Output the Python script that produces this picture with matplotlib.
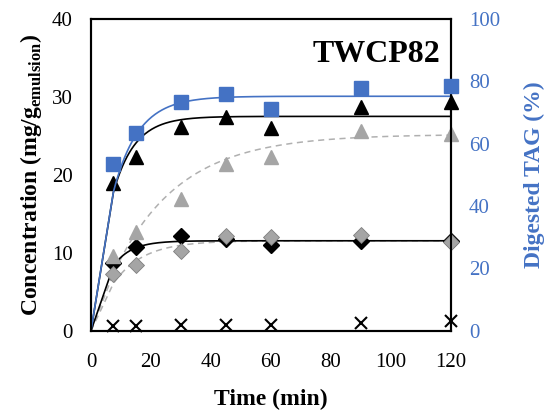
import numpy as np
import matplotlib
import matplotlib.pyplot as plt

matplotlib.use("agg")

plt.rcParams["font.family"] = ["Liberation Serif", "DejaVu Serif"]
plt.rcParams["mathtext.fontset"] = "custom"
plt.rcParams["mathtext.rm"] = "Liberation Serif:bold"
plt.rcParams["mathtext.bf"] = "Liberation Serif:bold"

# sampling times (min)
time_min = [7.5, 15, 30, 45, 60, 90, 120]

# concentrations (mg/g emulsion), left axis
ffa_black_tri = [19.0, 22.3, 26.1, 27.4, 26.0, 28.7, 29.3]
ffa_gray_tri = [9.6, 12.7, 16.9, 21.4, 22.3, 25.6, 25.3]
mag_black_dia = [8.7, 10.7, 12.1, 11.8, 11.0, 11.5, 11.5]
mag_gray_dia = [7.3, 8.5, 10.2, 12.1, 12.0, 12.3, 11.4]
dag_cross = [0.6, 0.6, 0.8, 0.8, 0.8, 1.0, 1.2]

# digested TAG (%), right axis
tag_digested = [53.4, 63.4, 73.5, 75.9, 71.2, 77.8, 78.5]

# first-order fit parameters (plateau, rate constant 1/min)
fit_black_tri = (27.5, 0.139)
fit_gray_tri = (25.2, 0.046)
fit_black_dia = (11.55, 0.17)
fit_gray_dia = (11.55, 0.10)
fit_tag = (75.2, 0.12)

gray = "#a5a5a5"
blue = "#4472c4"


def first_order(t, params):
    cmax, k = params
    return cmax * (1 - np.exp(-k * t))


t_fit = np.concatenate([[0], np.linspace(7.5, 120, 300)])

fig = plt.figure(figsize=(5.48, 4.11), dpi=100)
ax = fig.add_axes([0.166, 0.195, 0.657, 0.759])
ax2 = ax.twinx()

# fitted curves
ax.plot(t_fit, first_order(t_fit, fit_gray_tri), color="#b0b0b0", lw=1.1, ls=(0, (4, 3)), zorder=2)
ax.plot(t_fit, first_order(t_fit, fit_gray_dia), color="#b0b0b0", lw=1.1, ls=(0, (4, 3)), zorder=2)
ax.plot(t_fit, first_order(t_fit, fit_black_tri), color="black", lw=1.2, zorder=2)
ax.plot(t_fit, first_order(t_fit, fit_black_dia), color="black", lw=1.2, zorder=2)

# measured points
mk = dict(ls="none", clip_on=False, zorder=3)
ax.plot(time_min, mag_black_dia, marker="D", ms=8, color="black", **mk)
ax.plot(time_min, mag_gray_dia, marker="D", ms=8, color=gray, mec="#7f7f7f", mew=0.6, **mk)
ax.plot(time_min, ffa_black_tri, marker="^", ms=10, color="black", **mk)
ax.plot(time_min, ffa_gray_tri, marker="^", ms=10, color=gray, **mk)
ax.plot(time_min, dag_cross, marker="x", ms=9, mew=1.5, color="black", **mk)

ax2.plot(t_fit, first_order(t_fit, fit_tag), color=blue, lw=1.2, zorder=2)
ax2.plot(time_min, tag_digested, marker="s", ms=10, color=blue, **mk)

ax.set_xlim(0, 120)
ax.set_ylim(0, 40)
ax2.set_ylim(0, 100)
ax.set_xticks(range(0, 121, 20))
ax.set_yticks(range(0, 41, 10))
ax2.set_yticks(range(0, 101, 20))

ax.tick_params(axis="x", length=0, pad=16, labelsize=15)
ax.tick_params(axis="y", length=0, pad=13, labelsize=15)
ax2.tick_params(axis="y", length=0, pad=13, labelsize=15, labelcolor=blue)

for a in (ax, ax2):
    for sp in a.spines.values():
        sp.set_linewidth(1.5)
        sp.set_color("black")

ax.set_xlabel("Time (min)", fontsize=17, fontweight="bold", labelpad=12)
ax.set_ylabel(r"Concentration (mg/g$_{\mathbf{emulsion}}$)", fontsize=17,
              fontweight="bold", labelpad=6)
ax2.set_ylabel("Digested TAG (%)", fontsize=17, fontweight="bold", color=blue, labelpad=17)

ax.text(0.97, 0.885, "TWCP82", transform=ax.transAxes, ha="right", va="center",
        fontsize=23, fontweight="bold")

fig.savefig("out.png", dpi=100)
